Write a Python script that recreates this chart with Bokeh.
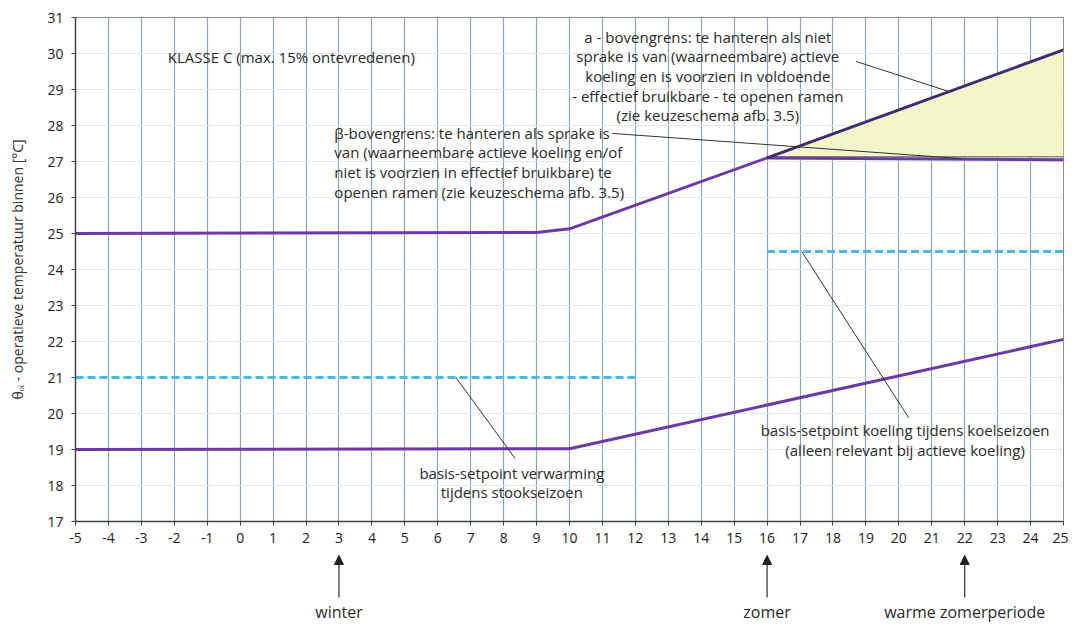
from bokeh.plotting import figure
from bokeh.models import Range1d, FixedTicker, PrintfTickFormatter, Arrow, NormalHead
from bokeh.layouts import column
from bokeh.core.properties import value
from bokeh.embed import file_html
from bokeh.resources import INLINE

FONT = "Open Sans"

# ---- data ----
x_ticks = list(range(-5, 26))
y_ticks = list(range(17, 32))

beta_x = [-5, 9, 10, 16, 25]
beta_y = [25.0, 25.03, 25.13, 27.1, 27.05]

alpha_x = [16, 25]
alpha_y = [27.1, 30.1]
alpha_base = [27.13, 27.13]

heat_x = [-5, 10, 25]
heat_y = [19.0, 19.02, 22.06]

heat_sp_x = [-5, 12]
heat_sp_y = [21.0, 21.0]

cool_sp_x = [16, 25]
cool_sp_y = [24.5, 24.5]

season_x = [3, 16, 22]
season_labels = ["winter", "zomer", "warme zomerperiode"]

klasse_text = "KLASSE C (max. 15% ontevredenen)"
alpha_text = ["a - bovengrens: te hanteren als niet",
              "sprake is van (waarneembare) actieve",
              "koeling en is voorzien in voldoende",
              "- effectief bruikbare - te openen ramen",
              "(zie keuzeschema afb. 3.5)"]
beta_text = ["β-bovengrens: te hanteren als sprake is",
             "van (waarneembare actieve koeling en/of",
             "niet is voorzien in effectief bruikbare) te",
             "openen ramen (zie keuzeschema afb. 3.5)"]
heat_text = ["basis-setpoint verwarming", "tijdens stookseizoen"]
cool_text = ["basis-setpoint koeling tijdens koelseizoen",
             "(alleen relevant bij actieve koeling)"]

# leader lines (start near text, end at curve)
lead_x0 = [18.7, 11.3, 6.55, 17.05]
lead_y0 = [29.78, 27.78, 21.0, 24.5]
lead_x1 = [21.5, 21.9, 8.35, 20.3]
lead_y1 = [28.95, 27.08, 18.75, 19.88]

# ---- main figure ----
W = 1068
ML, MR, MT, FRAME_H = 75, 5, 17, 504
H1 = 552
p = figure(width=W, height=H1, x_range=Range1d(-5, 25), y_range=Range1d(17, 31),
           output_backend="svg", toolbar_location=None,
           min_border_left=ML, min_border_right=MR, min_border_top=MT,
           min_border_bottom=H1 - MT - FRAME_H)
p.background_fill_color = "white"
p.border_fill_color = "white"
p.outline_line_color = "#8c8c8c"
p.outline_line_width = 1

px_per_y = FRAME_H / 14.0

p.xaxis.ticker = FixedTicker(ticks=x_ticks)
p.yaxis.ticker = FixedTicker(ticks=y_ticks)
for ax in (p.xaxis, p.yaxis):
    ax.formatter = PrintfTickFormatter(format="%d")
    ax.major_label_text_font = FONT
    ax.major_label_text_font_size = "14px"
    ax.major_label_text_color = "#222222"
    ax.axis_line_color = "#444444"
    ax.axis_line_width = 1.5
    ax.major_tick_line_color = "#444444"
    ax.major_tick_out = 4
    ax.major_tick_in = 0
    ax.minor_tick_line_color = None
p.xaxis.major_label_standoff = 7
p.yaxis.major_label_standoff = 8
p.yaxis.axis_label = "θₒᵢ - operatieve temperatuur binnen [°C]"
p.yaxis.axis_label_text_font = FONT
p.yaxis.axis_label_text_font_size = "14px"
p.yaxis.axis_label_text_font_style = "normal"
p.yaxis.axis_label_text_color = "#333333"
p.yaxis.axis_label_standoff = 17

p.xgrid.grid_line_color = "#8fa3b1"
p.xgrid.grid_line_width = 1.2
p.ygrid.grid_line_color = "#e4e8ec"
p.ygrid.grid_line_width = 1

# fill + lines
p.varea(x=alpha_x, y1=alpha_base, y2=alpha_y, fill_color="#f2f6c8", fill_alpha=1.0)
p.line(alpha_x, alpha_base, line_color="#555555", line_width=1)
p.line(heat_sp_x, heat_sp_y, line_color="#4fb9e6", line_width=3, line_dash="8 4")
p.line(cool_sp_x, cool_sp_y, line_color="#4fb9e6", line_width=3, line_dash="8 4")
p.line(heat_x, heat_y, line_color="#6a3ba6", line_width=3)
p.line(beta_x, beta_y, line_color="#6a3ba6", line_width=3)
p.line(alpha_x, alpha_y, line_color="#3d2c6e", line_width=3)

p.segment(x0=lead_x0, y0=lead_y0, x1=lead_x1, y1=lead_y1, line_color="#333333", line_width=1)

LS = 19.7 / px_per_y  # line spacing in data units

def block(lines, x, y_top, align):
    ys = [y_top - i * LS for i in range(len(lines))]
    p.text(x=[x] * len(lines), y=ys, text=lines, text_align=align, text_baseline="middle",
           text_font=value(FONT), text_font_size="15px", text_color="#2b2b2b")

block([klasse_text], -2.2, 29.89, "left")
block(alpha_text, 14.2, 30.47, "center")
block(beta_text, 2.86, 27.8, "left")
block(heat_text, 8.25, 18.36, "center")
block(cool_text, 20.19, 19.53, "center")

# ---- season arrows strip below ----
H2 = 70
q = figure(width=W, height=H2, x_range=p.x_range, y_range=Range1d(0, H2),
           output_backend="svg", toolbar_location=None,
           x_axis_location=None, y_axis_location=None,
           min_border_left=ML, min_border_right=MR, min_border_top=0, min_border_bottom=0)
q.outline_line_color = None
q.grid.grid_line_color = None
q.background_fill_color = "white"
q.border_fill_color = "white"
for sx in season_x:
    q.add_layout(Arrow(end=NormalHead(size=9, fill_color="#222222", line_color="#222222"),
                       x_start=sx, y_start=25, x_end=sx, y_end=67,
                       line_color="#333333", line_width=1.2))
q.text(x=season_x, y=[11] * len(season_x), text=season_labels, text_align="center",
       text_baseline="middle", text_font=value(FONT), text_font_size="16px", text_color="#2b2b2b")

layout = column(p, q, spacing=0)
open("out.html", "w").write(file_html(layout, INLINE))
